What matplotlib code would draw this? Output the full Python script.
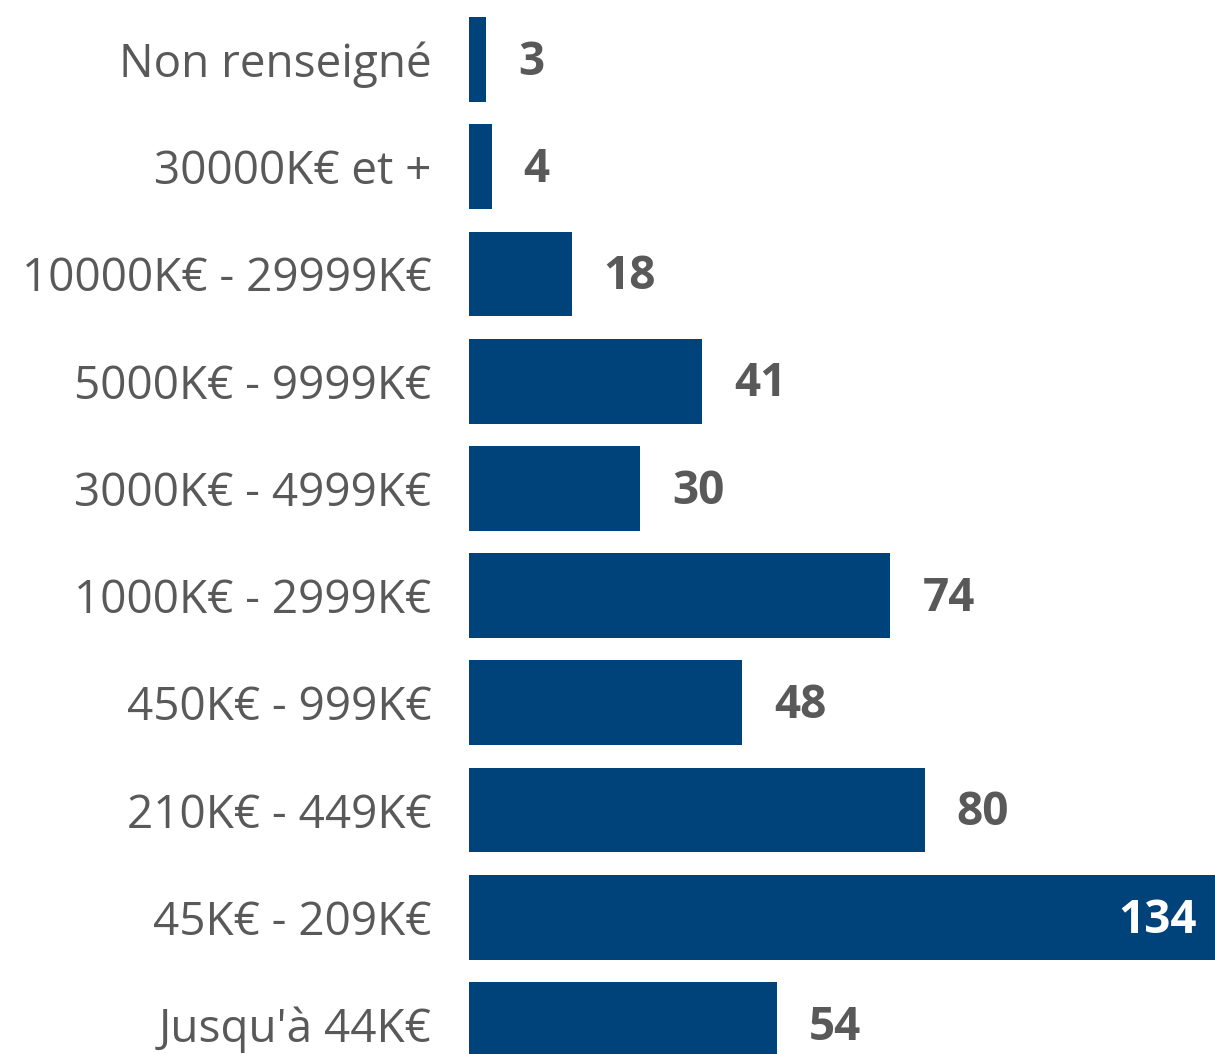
import matplotlib.pyplot as plt

plt.rcParams['font.family'] = ['Open Sans', 'DejaVu Sans']

# tranches de chiffre d'affaires, du bas vers le haut
categories = ["Jusqu'à 44K€", "45K€ - 209K€", "210K€ - 449K€", "450K€ - 999K€",
              "1000K€ - 2999K€", "3000K€ - 4999K€", "5000K€ - 9999K€",
              "10000K€ - 29999K€", "30000K€ et +", "Non renseigné"]
values = [54, 134, 80, 48, 74, 30, 41, 18, 4, 3]

bar_color = '#00437A'
text_color = '#595959'

fig = plt.figure(figsize=(12.15, 10.54), dpi=100)
ax = fig.add_axes([469 / 1215, 0, 746 / 1215, 1])

y = list(range(len(categories)))
ax.barh(y, values, height=0.79, color=bar_color)

xmax = 131
ax.set_xlim(0, xmax)
ax.set_ylim(-0.275, 9.555)

ax.set_yticks(y)
ax.set_yticklabels(categories, fontsize=33, color=text_color)
ax.tick_params(axis='y', length=0, pad=27)
ax.set_xticks([])
for s in ax.spines.values():
    s.set_visible(False)

for yi, v in zip(y, values):
    if v > xmax:
        ax.annotate(str(v), (xmax, yi), xytext=(-13, -2), textcoords='offset points',
                    ha='right', va='center', fontsize=33, fontweight='bold', color='white')
    else:
        ax.annotate(str(v), (v, yi), xytext=(23, -2), textcoords='offset points',
                    ha='left', va='center', fontsize=33, fontweight='bold', color=text_color)

fig.savefig('out.png', dpi=100)
